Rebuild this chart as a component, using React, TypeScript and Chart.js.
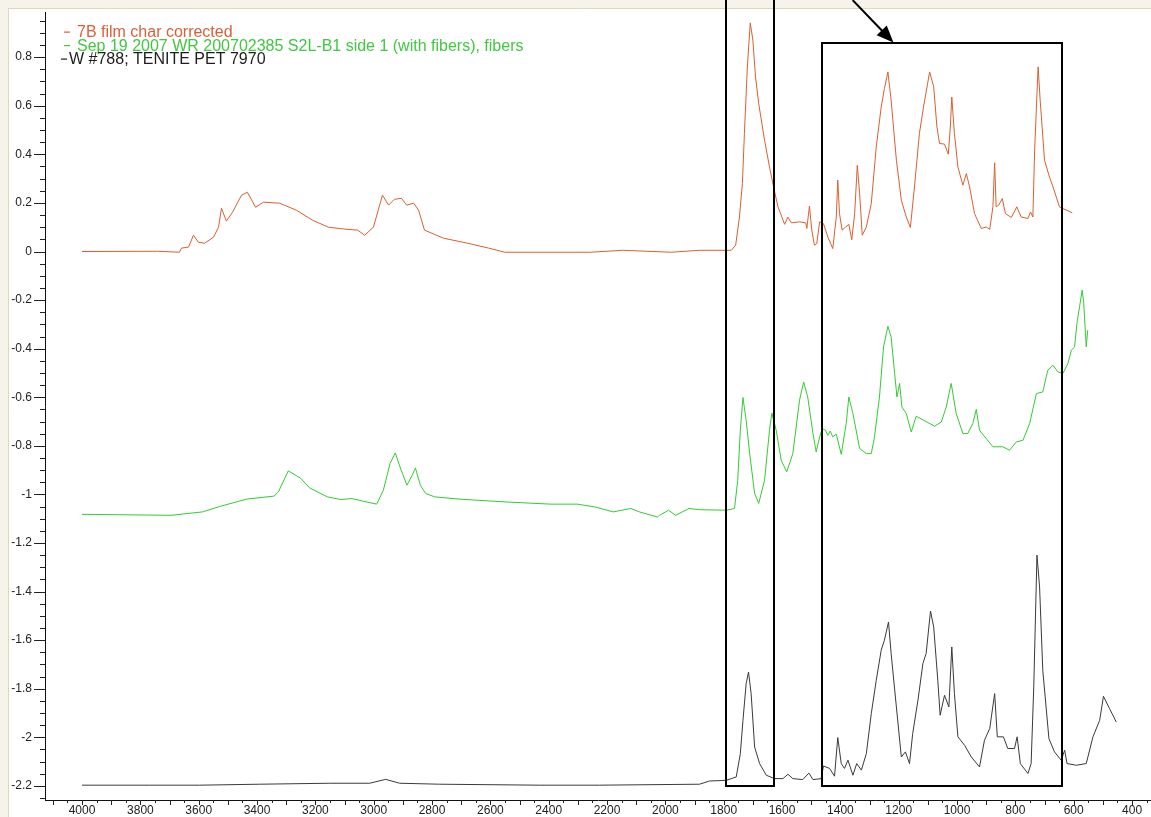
import React, { useEffect, useRef } from 'react';
import { Chart, registerables } from 'chart.js';

Chart.register(...registerables);

// IR spectra: [wavenumber (cm-1), absorbance]
const CHAR_FILM: [number, number][] = [
  [4000, 0.0], [3741, 0.001], [3666, -0.003], [3659, 0.014], [3635, 0.018], [3618, 0.067],
  [3601, 0.038], [3580, 0.034], [3549, 0.059], [3532, 0.1], [3522, 0.178], [3505, 0.125],
  [3484, 0.162], [3453, 0.232], [3433, 0.244], [3405, 0.182], [3378, 0.203], [3323, 0.199],
  [3265, 0.17], [3210, 0.129], [3155, 0.1], [3097, 0.092], [3055, 0.088], [3031, 0.067],
  [3001, 0.1], [2970, 0.232], [2949, 0.191], [2929, 0.215], [2905, 0.219], [2887, 0.191],
  [2863, 0.199], [2846, 0.17], [2826, 0.088], [2761, 0.055], [2678, 0.034], [2606, 0.014],
  [2551, -0.003], [2257, -0.003], [2147, 0.005], [1979, -0.003], [1883, 0.005], [1774, 0.005],
  [1759, 0.026], [1746, 0.142], [1736, 0.28], [1729, 0.486], [1719, 0.76], [1709, 0.941],
  [1700, 0.87], [1691, 0.719], [1680, 0.609], [1660, 0.458], [1643, 0.348], [1629, 0.266],
  [1614, 0.184], [1591, 0.112], [1580, 0.142], [1568, 0.118], [1540, 0.122], [1519, 0.118],
  [1515, 0.095], [1506, 0.187], [1498, 0.088], [1489, 0.026], [1481, 0.033], [1471, 0.122],
  [1458, 0.115], [1443, 0.06], [1426, 0.012], [1414, 0.142], [1409, 0.294], [1403, 0.156],
  [1394, 0.088], [1382, 0.101], [1371, 0.112], [1361, 0.049], [1351, 0.156], [1342, 0.355],
  [1334, 0.239], [1325, 0.067], [1311, 0.101], [1294, 0.198], [1277, 0.431], [1260, 0.595],
  [1249, 0.671], [1237, 0.739], [1226, 0.623], [1208, 0.376], [1191, 0.211], [1174, 0.142],
  [1160, 0.099], [1146, 0.266], [1129, 0.486], [1115, 0.595], [1094, 0.739], [1080, 0.678],
  [1069, 0.513], [1060, 0.445], [1043, 0.442], [1030, 0.401], [1023, 0.513], [1018, 0.636],
  [1009, 0.486], [997, 0.348], [980, 0.273], [968, 0.321], [957, 0.266], [940, 0.156],
  [917, 0.095], [900, 0.101], [888, 0.091], [877, 0.184], [871, 0.365], [866, 0.184],
  [857, 0.191], [845, 0.218], [834, 0.156], [814, 0.14], [795, 0.184], [780, 0.142],
  [757, 0.136], [748, 0.163], [740, 0.142], [734, 0.417], [726, 0.65], [722, 0.76],
  [715, 0.623], [700, 0.376], [685, 0.314], [671, 0.266], [649, 0.184], [605, 0.159],
];

const FIBER_SAMPLE: [number, number][] = [
  [4000, -1.082], [3695, -1.086], [3587, -1.072], [3526, -1.049], [3434, -1.019], [3342, -1.007],
  [3327, -0.99], [3293, -0.903], [3251, -0.933], [3220, -0.973], [3159, -1.01], [3113, -1.021],
  [3075, -1.017], [3036, -1.028], [2990, -1.04], [2967, -0.983], [2944, -0.873], [2926, -0.829],
  [2906, -0.9], [2886, -0.962], [2868, -0.921], [2857, -0.891], [2840, -0.962], [2822, -0.996],
  [2791, -1.01], [2700, -1.02], [2547, -1.031], [2394, -1.04], [2302, -1.04], [2240, -1.052],
  [2179, -1.072], [2118, -1.058], [2089, -1.072], [2027, -1.093], [2020, -1.086], [1989, -1.065],
  [1965, -1.086], [1919, -1.058], [1883, -1.063], [1791, -1.065], [1763, -1.058], [1752, -0.942],
  [1743, -0.736], [1734, -0.601], [1723, -0.695], [1711, -0.832], [1694, -0.996], [1680, -1.037],
  [1660, -0.942], [1643, -0.736], [1635, -0.665], [1620, -0.736], [1603, -0.859], [1584, -0.907],
  [1563, -0.832], [1540, -0.612], [1526, -0.537], [1512, -0.599], [1494, -0.749], [1483, -0.825],
  [1471, -0.763], [1462, -0.729], [1451, -0.736], [1443, -0.757], [1435, -0.739], [1426, -0.763],
  [1414, -0.752], [1397, -0.835], [1380, -0.708], [1371, -0.599], [1357, -0.667], [1334, -0.811],
  [1311, -0.832], [1294, -0.832], [1283, -0.763], [1266, -0.599], [1252, -0.393], [1237, -0.308],
  [1226, -0.352], [1214, -0.502], [1206, -0.599], [1197, -0.543], [1189, -0.64], [1174, -0.667],
  [1157, -0.743], [1140, -0.678], [1077, -0.719], [1054, -0.702], [1037, -0.64], [1020, -0.543],
  [1003, -0.667], [980, -0.749], [963, -0.749], [946, -0.708], [934, -0.65], [923, -0.736],
  [900, -0.77], [877, -0.804], [843, -0.804], [820, -0.818], [797, -0.784], [774, -0.777],
  [751, -0.708], [728, -0.585], [706, -0.578], [689, -0.489], [671, -0.468], [654, -0.496],
  [637, -0.502], [620, -0.461], [608, -0.406], [597, -0.393], [589, -0.296], [580, -0.228],
  [571, -0.159], [566, -0.207], [557, -0.393], [552, -0.324],
];

const PET_REFERENCE: [number, number][] = [
  [4000, -2.197], [3769, -2.197], [3597, -2.197], [3391, -2.193], [3151, -2.189], [3014, -2.189],
  [2959, -2.173], [2911, -2.189], [2774, -2.193], [2431, -2.197], [2226, -2.197], [1883, -2.193],
  [1849, -2.18], [1791, -2.177], [1757, -2.163], [1743, -2.067], [1734, -1.93], [1723, -1.779],
  [1715, -1.731], [1706, -1.82], [1694, -2.04], [1677, -2.108], [1654, -2.156], [1626, -2.17],
  [1597, -2.17], [1580, -2.152], [1563, -2.17], [1529, -2.174], [1508, -2.147], [1494, -2.174],
  [1466, -2.17], [1458, -2.118], [1437, -2.128], [1420, -2.16], [1409, -2.001], [1397, -2.108],
  [1386, -2.128], [1374, -2.094], [1357, -2.156], [1344, -2.108], [1328, -2.135], [1311, -2.067],
  [1294, -1.902], [1277, -1.765], [1260, -1.641], [1249, -1.6], [1235, -1.525], [1226, -1.655],
  [1208, -1.875], [1191, -2.081], [1177, -2.06], [1163, -2.108], [1152, -1.984], [1134, -1.847],
  [1117, -1.696], [1106, -1.655], [1091, -1.48], [1080, -1.546], [1066, -1.765], [1058, -1.909],
  [1043, -1.827], [1028, -1.875], [1018, -1.628], [1009, -1.82], [997, -1.998], [974, -2.033],
  [951, -2.081], [923, -2.122], [906, -2.012], [888, -1.964], [871, -1.82], [862, -1.998],
  [841, -1.998], [826, -2.046], [803, -2.046], [794, -1.998], [783, -2.108], [757, -2.149],
  [746, -2.108], [737, -1.793], [726, -1.25], [717, -1.381], [706, -1.724], [685, -2.005],
  [666, -2.06], [643, -2.094], [631, -2.053], [623, -2.108], [591, -2.115], [557, -2.108],
  [534, -1.998], [511, -1.93], [498, -1.831], [477, -1.882], [454, -1.937],
];

const SERIES_NAMES = [
  '7B film char corrected',
  'Sep 19 2007 WR 200702385 S2L-B1 side 1 (with fibers), fibers',
  'W #788; TENITE PET 7970',
];
const SERIES_COLORS = ['#d9602f', '#33cc33', '#3a3a3a'];
const LEGEND_TEXT_COLORS = ['#d9603b', '#40c840', '#1e1e1e'];

const X_TICKS = [4000, 3800, 3600, 3400, 3200, 3000, 2800, 2600, 2400, 2200, 2000, 1800, 1600, 1400, 1200, 1000, 800, 600, 400];
const Y_TICKS = [0.8, 0.6, 0.4, 0.2, 0, -0.2, -0.4, -0.6, -0.8, -1, -1.2, -1.4, -1.6, -1.8, -2, -2.2];
const X_RANGE = { min: 335, max: 4127 };
const Y_RANGE = { min: -2.258, max: 0.986 };

// Highlight regions (wavenumber span, absorbance span) and the pointer arrow
const HIGHLIGHT_BOXES = [
  { from: 1791, to: 1626, top: 1.2, bottom: -2.2 },
  { from: 1462, to: 639, top: 0.86, bottom: -2.2 },
];
const POINTER = { fromWn: 1358, fromAbs: 1.035, toWn: 1218, toAbs: 0.86 };

const FONT = '"Liberation Sans", Arial, sans-serif';

const framePlugin = {
  id: 'frame',
  beforeDraw(chart: any) {
    const { ctx, width, height } = chart;
    ctx.save();
    ctx.fillStyle = '#ffffff';
    ctx.fillRect(0, 0, width, height);
    ctx.fillStyle = '#f5f3ea';
    ctx.fillRect(0, 0, width, 8);
    ctx.fillRect(0, 0, 8, height);
    ctx.strokeStyle = '#ddd7c4';
    ctx.lineWidth = 1;
    ctx.beginPath();
    ctx.moveTo(8, 8.5);
    ctx.lineTo(width, 8.5);
    ctx.moveTo(8.5, 8);
    ctx.lineTo(8.5, height);
    ctx.stroke();
    ctx.restore();
  },
};

const tickMarksPlugin = {
  id: 'tickMarks',
  afterDraw(chart: any) {
    const { ctx, chartArea } = chart;
    const xs = chart.scales.x;
    const ys = chart.scales.y;
    ctx.save();
    ctx.strokeStyle = '#222';
    ctx.lineWidth = 1;
    ctx.beginPath();
    for (let k = 7; k <= 82; k++) {
      const px = Math.round(xs.getPixelForValue(k * 50)) + 0.5;
      if (px < chartArea.left || px > chartArea.right) continue;
      const len = k % 2 === 0 ? 5 : 3;
      ctx.moveTo(px, chartArea.bottom);
      ctx.lineTo(px, chartArea.bottom + len);
    }
    for (let k = -45; k <= 19; k++) {
      const py = Math.round(ys.getPixelForValue(k * 0.05)) + 0.5;
      if (py < chartArea.top || py > chartArea.bottom) continue;
      const len = k % 4 === 0 ? 11 : 5;
      ctx.moveTo(chartArea.left, py);
      ctx.lineTo(chartArea.left - len, py);
    }
    ctx.stroke();
    ctx.restore();
  },
};

const legendPlugin = {
  id: 'seriesLegend',
  afterDraw(chart: any) {
    const { ctx } = chart;
    const baselines = [37, 50.5, 64];
    const dashX = [64, 64, 61];
    const textX = [77, 77, 69];
    ctx.save();
    ctx.font = `16px ${FONT}`;
    ctx.textBaseline = 'alphabetic';
    ctx.textAlign = 'left';
    SERIES_NAMES.forEach((name, i) => {
      ctx.fillStyle = LEGEND_TEXT_COLORS[i];
      ctx.fillRect(dashX[i], baselines[i] - 5.5, 6, 1.2);
      ctx.fillText(name, textX[i], baselines[i]);
    });
    ctx.restore();
  },
};

const highlightPlugin = {
  id: 'highlights',
  afterDraw(chart: any) {
    const { ctx } = chart;
    const xs = chart.scales.x;
    const ys = chart.scales.y;
    ctx.save();
    ctx.strokeStyle = '#000';
    ctx.fillStyle = '#000';
    ctx.lineWidth = 2;
    HIGHLIGHT_BOXES.forEach((b) => {
      const x1 = Math.round(xs.getPixelForValue(b.from));
      const x2 = Math.round(xs.getPixelForValue(b.to));
      const y1 = Math.round(ys.getPixelForValue(b.top));
      const y2 = Math.round(ys.getPixelForValue(b.bottom));
      ctx.strokeRect(x1, y1, x2 - x1, y2 - y1);
    });
    const sx = xs.getPixelForValue(POINTER.fromWn);
    const sy = ys.getPixelForValue(POINTER.fromAbs);
    const tx = xs.getPixelForValue(POINTER.toWn);
    const ty = ys.getPixelForValue(POINTER.toAbs);
    const len = Math.hypot(tx - sx, ty - sy);
    const ux = (tx - sx) / len;
    const uy = (ty - sy) / len;
    const headLen = 17;
    const headHalf = 7;
    const bx = tx - ux * headLen;
    const by = ty - uy * headLen;
    ctx.beginPath();
    ctx.moveTo(sx, sy);
    ctx.lineTo(bx + ux * 2, by + uy * 2);
    ctx.stroke();
    ctx.beginPath();
    ctx.moveTo(tx, ty);
    ctx.lineTo(bx - uy * headHalf, by + ux * headHalf);
    ctx.lineTo(bx + uy * headHalf, by - ux * headHalf);
    ctx.closePath();
    ctx.fill();
    ctx.restore();
  },
};

function toPoints(spectrum: [number, number][]) {
  return spectrum.map(([x, y]) => ({ x, y }));
}

function formatAbs(v: number) {
  const r = Math.round(v * 10) / 10;
  return r === 0 ? '0' : String(r);
}

export default function App() {
  const canvasRef = useRef<HTMLCanvasElement | null>(null);

  useEffect(() => {
    document.body.style.margin = '0';
    const canvas = canvasRef.current;
    if (!canvas) return;
    const spectra = [CHAR_FILM, FIBER_SAMPLE, PET_REFERENCE];
    const chart = new Chart(canvas, {
      type: 'line',
      data: {
        datasets: spectra.map((s, i) => ({
          label: SERIES_NAMES[i],
          data: toPoints(s),
          borderColor: SERIES_COLORS[i],
          backgroundColor: SERIES_COLORS[i],
          borderWidth: 1,
          pointRadius: 0,
          tension: 0,
          fill: false,
        })),
      },
      options: {
        responsive: false,
        animation: false,
        devicePixelRatio: 1,
        parsing: true,
        layout: { padding: { left: 0, top: 12, right: 0, bottom: 0 } },
        plugins: { legend: { display: false }, tooltip: { enabled: false } },
        scales: {
          x: {
            type: 'linear',
            reverse: true,
            min: X_RANGE.min,
            max: X_RANGE.max,
            afterBuildTicks: (s: any) => {
              s.ticks = X_TICKS.map((value) => ({ value }));
            },
            afterFit: (s: any) => {
              s.height = 17;
              s.paddingLeft = 0;
              s.paddingRight = 0;
            },
            grid: { display: false, drawTicks: false },
            border: { display: true, color: '#111', width: 1 },
            ticks: {
              padding: 3,
              autoSkip: false,
              maxRotation: 0,
              color: '#222',
              font: { family: FONT, size: 12 },
              callback: (v: any) => String(v),
            },
          },
          y: {
            type: 'linear',
            min: Y_RANGE.min,
            max: Y_RANGE.max,
            afterBuildTicks: (s: any) => {
              s.ticks = Y_TICKS.map((value) => ({ value }));
            },
            afterFit: (s: any) => {
              s.width = 45;
              s.paddingTop = 0;
              s.paddingBottom = 0;
            },
            grid: { display: false, drawTicks: false },
            border: { display: true, color: '#111', width: 1 },
            ticks: {
              padding: 13,
              autoSkip: false,
              color: '#222',
              font: { family: FONT, size: 12 },
              callback: (v: any) => formatAbs(Number(v)),
            },
          },
        },
      },
      plugins: [framePlugin, tickMarksPlugin, legendPlugin, highlightPlugin],
    } as any);
    return () => chart.destroy();
  }, []);

  return (
    <canvas
      ref={canvasRef}
      width={1151}
      height={817}
      style={{ display: 'block', width: 1151, height: 817 }}
    />
  );
}
